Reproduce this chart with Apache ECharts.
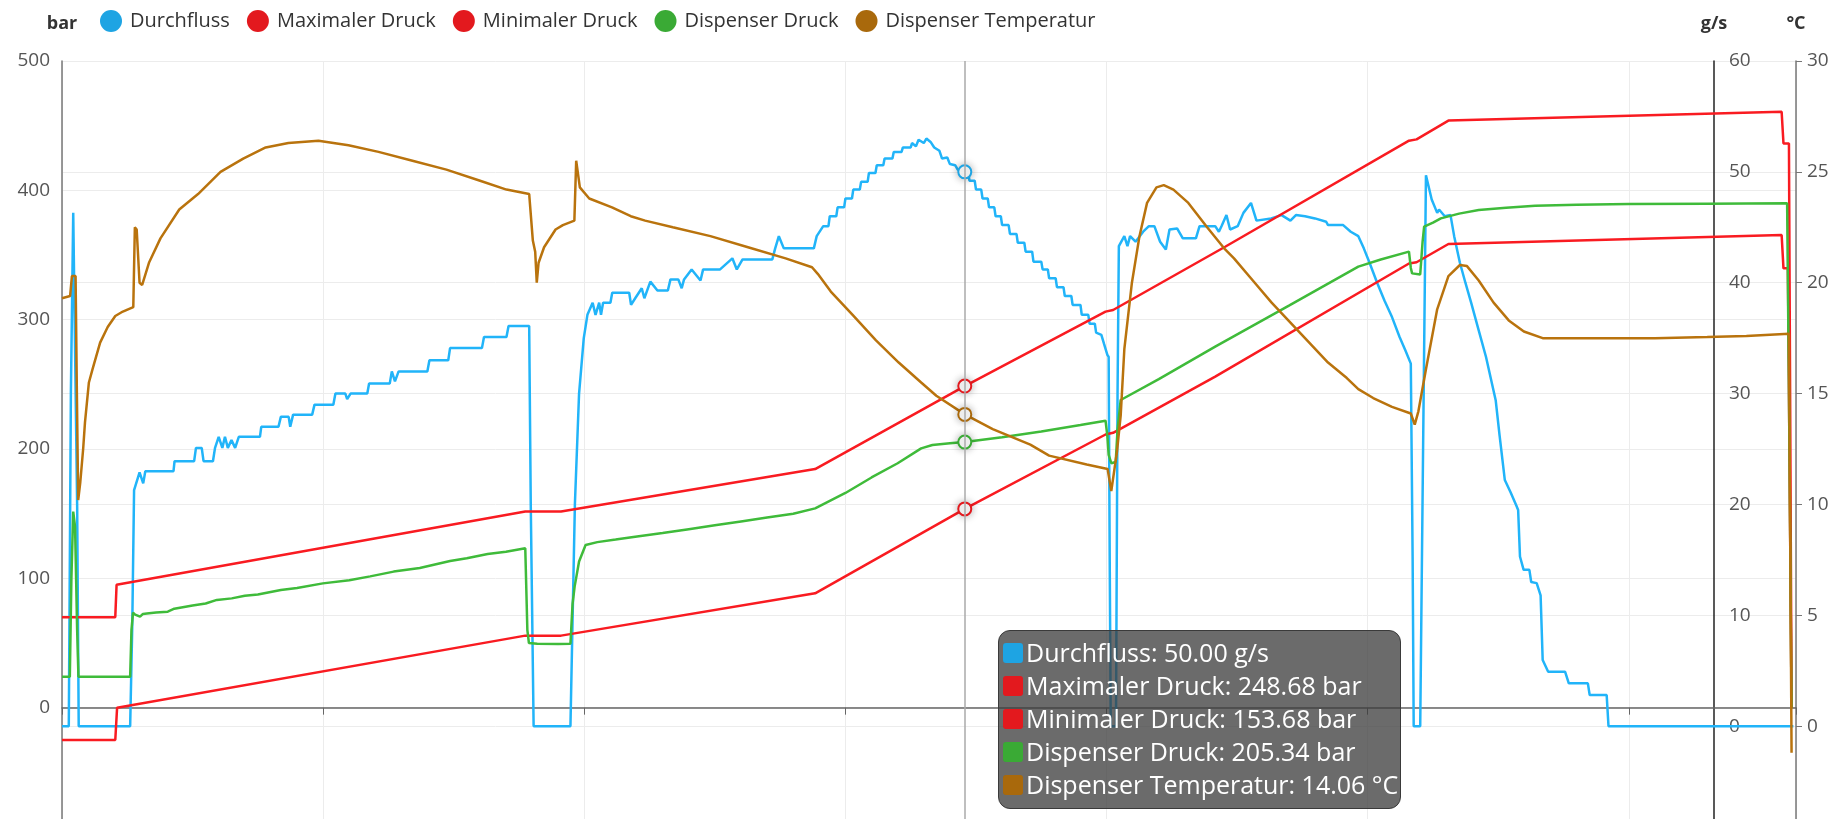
<!DOCTYPE html>
<html><head><meta charset="utf-8">
<script src="https://cdn.jsdelivr.net/npm/echarts@6.0.0/dist/echarts.min.js"></script>
<style>html,body{margin:0;padding:0;background:#fff;overflow:hidden;}#chart{width:1837px;height:860px;}</style>
</head><body><div id="chart"></div>
<script>
// ---- data (x: time units, y: axis units) ----
const seriesNames = ['Durchfluss', 'Maximaler Druck', 'Minimaler Druck', 'Dispenser Druck', 'Dispenser Temperatur'];
const seriesUnits = ['g/s', 'bar', 'bar', 'bar', '°C'];
const axisNames = ['bar', 'g/s', '°C'];
const barAxis = { min: -100, max: 500, interval: 100 };
const flowAxis = { min: -10, max: 60, interval: 10 };
const tempAxis = { min: -5, max: 30, interval: 5 };
const timeAxis = { min: 0, max: 664, interval: 100 };
const hoverX = 345.7;

const durchfluss = [
  [0,0],[2.6,0],[3.4,30],[4.3,46.3],[5.0,46.3],[5.8,20],[6.4,0],[26.1,0],[26.9,9],[27.6,21.3],[29.7,22.9],[31.1,21.9],[31.9,23],
  [42.7,23],[43.1,23.9],[50.6,23.9],[51.3,25.1],[53.5,25.1],[54.2,23.9],[57.8,23.9],[58.6,25.1],[60,26.1],[61.4,25.1],[62.4,26.1],
  [63.5,25.1],[64.9,25.8],[66.3,25.1],[67.7,26.1],[75.8,26.1],[76.3,27.0],[82.9,27.0],[83.8,27.9],[86.8,27.9],[87.4,27],[88.1,27],
  [88.5,28.1],[95.8,28.1],[96.7,29],[103.9,29],[104.7,30],[108.5,30],[109.2,29.5],[110.5,30],[116.9,30],[117.6,30.9],[125.5,30.9],
  [126.3,32],[127.5,31.1],[128.9,32],[139.9,32],[140.7,33],[147.9,33],[148.6,34.1],[160.8,34.1],[161.6,35.1],[170.2,35.1],[171,36.1],
  [178.9,36.1],[179.5,20],[180.6,0],[194.7,0],[196.4,20],[198,30],[199.8,35],[201.2,37.1],[203.2,38.2],[204.3,37.1],[205.7,38.2],
  [206.4,37.1],[207.2,38.2],[210,38.2],[210.7,39.1],[217.2,39.1],[217.9,38],[219.5,38.6],[222,39.5],[223,38.6],[225.3,40.1],[228,39.3],
  [232,39.3],[233,40.3],[236,40.3],[237.3,39.5],[238.2,40.3],[241.1,41.2],[244.5,40.2],[245.5,41.2],[252,41.2],[256.7,42.2],[258.4,41.2],
  [260.6,42.1],[272,42.1],[273.1,43.1],[274.5,44.2],[276.4,43.1],[287.9,43.1],[289,44.2],[291.5,45.1],[293.5,45.1],[294,46],[296.5,46],
  [297,46.8],[299.5,46.8],[300,47.6],[302.5,47.6],[303,48.4],[305.5,48.4],[306,49.1],[308.5,49.1],[309,49.9],[311.5,49.9],[312,50.6],
  [314.5,50.6],[315,51.2],[318,51.2],[318.5,51.8],[321.5,51.8],[322,52.2],[325,52.2],[325.5,52.6],[327,52.3],[328,52.9],[330,52.6],
  [331,53],[332.6,52.7],[334,52.2],[336,51.9],[337,51.2],[339,51.3],[340,50.7],[342,50.6],[343,50.2],[345.7,50.0],[347,50],[347.5,49.2],
  [349.5,49.2],[350,48.4],[352,48.4],[352.5,47.6],[354.5,47.6],[355,46.8],[357,46.8],[357.5,46],[359.5,46],[360,45.2],[362.5,45.2],
  [363,44.4],[365.5,44.4],[366,43.6],[368.5,43.6],[369,42.8],[371.5,42.8],[372,41.9],[375,41.9],[375.5,41.2],[377.5,41.2],[378,40.4],
  [380.5,40.4],[381,39.6],[383.5,39.6],[384,38.8],[386.5,38.8],[387,38],[390,38],[390.5,37.1],[393,37.1],[393.5,36.3],[395.5,36.3],
  [396,35.5],[398,35.3],[399,34.5],[400.3,33.5],[400.8,33.3],[401.2,15],[401.6,0],[403.6,0],[404.2,30],[404.7,43.3],[406.8,44.2],
  [408,43.3],[409,44.2],[411.1,43.7],[414,44.6],[416.2,45.1],[418.3,45.1],[420.5,43.7],[422.7,43],[424.1,44.8],[427,44.9],[429.2,44],
  [434.2,44],[435.6,45.1],[441.6,45.1],[443,44.6],[444,45.1],[445.9,46.1],[447.3,44.8],[450.2,45.1],[452.4,46.3],[455.3,47.2],
  [457.4,45.6],[463,45.8],[467,46.1],[470.4,45.6],[472.5,46.1],[476,46],[479.8,45.8],[484.1,45.5],[484.8,45.2],[490.6,45.2],
  [493.5,44.6],[496.4,44.2],[498.5,43.1],[500.7,41.8],[503.6,40],[506.4,38.4],[509.3,36.9],[512.2,35.1],[514.4,33.9],[516.5,32.7],
  [517.2,15],[517.6,0],[520.1,0],[521.2,25],[522.3,49.7],[524.5,47.5],[526.6,46.3],[527.3,46.6],[529.5,46],[531.7,46.1],[533.1,44.2],
  [535.3,41.8],[537.4,40],[539.6,38.2],[542.5,35.7],[545.3,33.3],[549,29.4],[550.5,26.2],[552.5,22.2],[554.7,21.1],[556.9,19.9],
  [557.6,19.5],[558.3,15.3],[559.7,14.1],[561.9,14.1],[562.6,13],[564.7,12.9],[566.2,11.8],[567,5.97],[569.1,4.9],[575.6,4.9],
  [577,3.86],[584.3,3.86],[585,2.8],[591.5,2.8],[592.2,0],[663,0]
];

const maxDruck = [
  [0,70],[20.4,70],[20.9,95],[177.4,151.6],[191.1,151.6],[288.4,184.5],[345.7,248.68],[399.6,306.2],[402.5,307.5],[445.4,356.4],
  [515.8,438.4],[518.7,439.4],[530.9,453.9],[658.5,460.8],[659.2,436.3],[661.3,436.3],[662.3,0],[663,0]
];

const minDruck = [
  [0,-25],[20.4,-25],[21.1,0],[177.4,55.7],[191.1,55.7],[288.4,88.4],[345.7,153.68],[399.6,211.2],[402.5,212.5],[441.6,256],
  [515.8,343.4],[518.7,344.4],[530.9,358.5],[658.5,365.5],[659.2,339.7],[660.9,339.7],[662.3,0],[663,0]
];

const dispenserDruck = [
  [0,24],[3.0,24],[3.6,100],[4.3,151.6],[5.0,140],[5.8,60],[6.3,24],[26.1,24],[26.6,60],[27.2,73.5],[28,72],[29.9,70.4],[31,72.5],
  [32.5,72.8],[36,73.5],[40.5,74.2],[43,76.5],[50,79],[55,80.5],[59.3,83.3],[65,84.5],[70,86.5],[75,87.5],[83.8,91],[90,92.5],
  [99.9,96.1],[110,98.5],[118,101.5],[127,105.2],[137,108],[148.6,113.4],[155,115.5],[163,118.8],[170,120.5],[177.4,123.2],
  [178.2,60],[178.8,50],[182,49.5],[190,49.2],[194.7,49.5],[195.5,80],[196.3,93.6],[198,113],[200.5,125.8],[205,128],[212,130],
  [219.5,132.2],[230,135],[240,138],[250,141],[260,144],[270,147],[280,150],[288.4,154.1],[300,166],[310,178],[320,189],[329,200.5],
  [333.3,203.1],[340,204.5],[345.7,205.34],[360,209],[375,213.5],[390,218.5],[399.6,221.9],[400.3,210],[400.8,195.4],[401.8,189],
  [403.5,190],[404.2,215],[405.4,237.9],[420,254],[441.6,279.1],[470,311],[496.4,341],[505,346.5],[515.8,352.6],[516.5,340],
  [517,335.8],[520.1,335],[521,360],[521.6,371.9],[525,375],[528,378.3],[535,382],[542.5,384.8],[553,386.5],[564.1,388.1],
  [580,388.8],[600.1,389.4],[630,389.7],[660.6,390],[661.5,200],[662.3,0],[663,0]
];

const dispenserTemp = [
  [0,19.3],[3.1,19.4],[3.8,20.3],[5.2,20.3],[5.7,15],[6.2,10.2],[7.0,11],[8.1,12.5],[8.8,13.7],[10.3,15.5],[11.7,16.1],[14.6,17.3],
  [17.5,18],[20.4,18.5],[23.3,18.7],[27.3,18.9],[27.9,22.5],[28.6,22.4],[29.7,20],[30.7,19.9],[33.3,20.9],[37.7,22],[44.9,23.3],
  [52.1,24.0],[60.7,25],[69.4,25.6],[78,26.1],[86.7,26.3],[98.2,26.4],[109.7,26.2],[121.2,25.9],[134.2,25.5],[147.2,25.1],
  [160.1,24.6],[170.2,24.2],[178.9,24.0],[180.3,21.9],[181.2,21.4],[181.8,20],[182.5,20.9],[184.6,21.6],[189,22.4],[191.8,22.6],
  [196.2,22.8],[196.9,25.5],[198.3,24.3],[201.9,23.8],[210.6,23.4],[217.8,23],[223.3,22.8],[233.9,22.5],[248.3,22.1],[262.7,21.6],
  [277.1,21.1],[287.2,20.7],[289.4,20.4],[294.4,19.6],[303.1,18.5],[311.7,17.4],[320.4,16.4],[329,15.5],[334.8,14.9],[345.7,14.06],
  [356.4,13.4],[370.8,12.7],[378,12.2],[392.4,11.8],[400.4,11.6],[401.8,10.6],[404,12.4],[405.4,14],[406.8,17],[409.7,20],[412.6,22.1],
  [415.5,23.6],[419.1,24.3],[421.9,24.4],[425.6,24.2],[431.3,23.6],[438.5,22.5],[445.4,21.5],[448.8,21.1],[456,20.1],[463.2,19.1],
  [470.4,18.2],[477.6,17.3],[484.8,16.4],[492,15.7],[496.4,15.2],[502.1,14.8],[509.3,14.4],[516.5,14.1],[518,13.6],[519.4,14.2],
  [522.3,16.1],[526.6,18.8],[530.9,20.3],[535.3,20.8],[538,20.75],[542.5,20.1],[548.2,19.1],[554,18.3],[559.8,17.8],[567,17.5],
  [585.7,17.5],[610,17.5],[630,17.55],[645,17.6],[661.3,17.7],[662.3,-1.2],[663,-1.2]
];

const seriesData = [durchfluss, maxDruck, minDruck, dispenserDruck, dispenserTemp];
const seriesAxis = [1, 0, 0, 0, 2];
const seriesColors = ['#1ea4e3', '#e3191e', '#e3191e', '#3aaa35', '#a9690c'];

// ---- chart ----
const FONT = '"Open Sans", "Noto Sans", sans-serif';
const chart = echarts.init(document.getElementById('chart'), null, { renderer: 'canvas' });

function yAxisBase(name, ax) {
  return {
    type: 'value', name: name, nameLocation: 'end', nameGap: 28,
    nameTextStyle: { fontWeight: 'bold', color: '#333', fontSize: 18, fontFamily: FONT },
    min: ax.min, max: ax.max, interval: ax.interval,
    axisLabel: { color: '#555', fontSize: 19, fontFamily: FONT, margin: 12 },
  };
}

const option = {
  animation: false,
  textStyle: { fontFamily: FONT },
  grid: { left: 62, top: 61, width: 1734, height: 776, containLabel: false },
  legend: {
    data: seriesNames, left: 100, top: 10, padding: 0, itemGap: 17, itemWidth: 22, itemHeight: 22, icon: 'circle',
    textStyle: { fontSize: 20, color: '#333', fontFamily: FONT, padding: [0, 0, 0, 3] }
  },
  xAxis: {
    type: 'value', min: timeAxis.min, max: timeAxis.max, interval: timeAxis.interval,
    axisLine: { onZero: true, onZeroAxisIndex: 0, lineStyle: { color: '#666', width: 1.5 } },
    axisTick: { show: true, length: 7, lineStyle: { color: '#666' } },
    axisLabel: { show: false },
    splitLine: { show: true, lineStyle: { color: '#ececec' } }
  },
  yAxis: [
    Object.assign(yAxisBase(axisNames[0], barAxis), {
      position: 'left',
      axisLine: { show: true, onZero: false, lineStyle: { color: '#777', width: 1.5 } },
      axisTick: { show: false },
      splitLine: { show: true, lineStyle: { color: '#ececec' } }
    }),
    Object.assign(yAxisBase(axisNames[1], flowAxis), {
      position: 'right', offset: -82,
      axisLine: { show: true, onZero: false, lineStyle: { color: '#222', width: 1.5 } },
      axisTick: { show: false },
      axisLabel: { color: '#555', fontSize: 19, fontFamily: FONT, margin: 15 },
      splitLine: { show: true, lineStyle: { color: '#ececec' } }
    }),
    Object.assign(yAxisBase(axisNames[2], tempAxis), {
      position: 'right',
      axisLine: { show: true, onZero: false, lineStyle: { color: '#777', width: 1.5 } },
      axisTick: { show: true, inside: false, length: 6, lineStyle: { color: '#777' } },
      axisLabel: { color: '#555', fontSize: 19, fontFamily: FONT, margin: 11 },
      splitLine: { show: false }
    })
  ],
  tooltip: {
    trigger: 'axis', alwaysShowContent: true, transitionDuration: 0, position: [998, 630],
    backgroundColor: 'rgba(60,60,60,0.76)', borderColor: '#3a3a3a', borderWidth: 1,
    padding: [5, 2, 7, 4],
    extraCssText: 'border-radius:12px;box-shadow:none;',
    textStyle: { color: '#fff', fontFamily: FONT, fontSize: 25 },
    axisPointer: { type: 'line', animation: false, lineStyle: { color: '#aaa', width: 1.5, type: 'solid' } },
    formatter: function (params) {
      return params.map(function (p) {
        const unit = seriesUnits[p.seriesIndex];
        return '<div style="height:33px;line-height:33px;white-space:nowrap;">' +
          '<span style="display:inline-block;width:20px;height:20px;border-radius:3px;vertical-align:middle;margin:-4px 3px 0 0;background:' +
          seriesColors[p.seriesIndex] + '"></span>' + p.seriesName + ': ' + p.value[1].toFixed(2) + ' ' + unit + '</div>';
      }).join('');
    }
  },
  series: seriesNames.map(function (name, i) {
    return {
      name: name, type: 'line', yAxisIndex: seriesAxis[i], data: seriesData[i],
      showSymbol: false, symbol: 'emptyCircle', symbolSize: 13,
      color: seriesColors[i],
      lineStyle: { width: 2.5, color: seriesColors[i] },
      itemStyle: { color: seriesColors[i], borderWidth: 1.5 },
      emphasis: { scale: false, focus: 'none', lineStyle: { width: 2.5 },
        itemStyle: { shadowBlur: 8, shadowColor: 'rgba(0,0,0,0.3)' } },
      z: 2 + i
    };
  })
};

chart.setOption(option);
const hoverIndex = durchfluss.findIndex(function (d) { return d[0] === hoverX; });
chart.dispatchAction({ type: 'showTip', seriesIndex: 0, dataIndex: hoverIndex });
</script>
</body></html>
